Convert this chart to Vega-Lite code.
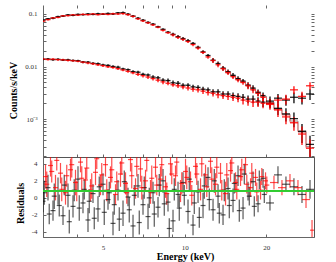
{
"$schema":"https://vega.github.io/schema/vega-lite/v6.json",
"padding":{"left":8,"top":4,"right":5,"bottom":0},
"background":"white",
"config":{"view":{"stroke":null},"axis":{"labelFont":"Liberation Serif","labelFontSize":7,"labelColor":"#333","titleFont":"Liberation Serif","titleFontSize":10,"titleFontWeight":"bold","titleColor":"#000","domainColor":"#666","tickColor":"#666","tickSize":-3,"labelPadding":9,"labelOverlap":false,"grid":false}},
"datasets":{
"spec":[
{"c":"k","e":3.000,"a":2.937,"b":3.065,"f":0.076,"l":0.073,"h":0.079},
{"c":"k","e":3.130,"a":3.064,"b":3.197,"f":0.081,"l":0.0778,"h":0.0842},
{"c":"k","e":3.266,"a":3.197,"b":3.336,"f":0.083,"l":0.0797,"h":0.0863},
{"c":"k","e":3.408,"a":3.336,"b":3.481,"f":0.089,"l":0.0854,"h":0.0926},
{"c":"k","e":3.556,"a":3.481,"b":3.632,"f":0.091,"l":0.0874,"h":0.0946},
{"c":"k","e":3.710,"a":3.632,"b":3.790,"f":0.096,"l":0.0922,"h":0.0998},
{"c":"k","e":3.871,"a":3.790,"b":3.954,"f":0.094,"l":0.0902,"h":0.0978},
{"c":"k","e":4.039,"a":3.954,"b":4.126,"f":0.098,"l":0.0941,"h":0.1019},
{"c":"k","e":4.214,"a":4.126,"b":4.305,"f":0.097,"l":0.0931,"h":0.1009},
{"c":"k","e":4.397,"a":4.305,"b":4.491,"f":0.100,"l":0.096,"h":0.104},
{"c":"k","e":4.588,"a":4.491,"b":4.687,"f":0.098,"l":0.0941,"h":0.1019},
{"c":"k","e":4.787,"a":4.687,"b":4.890,"f":0.101,"l":0.097,"h":0.105},
{"c":"k","e":4.995,"a":4.890,"b":5.102,"f":0.099,"l":0.095,"h":0.103},
{"c":"k","e":5.212,"a":5.102,"b":5.324,"f":0.102,"l":0.098,"h":0.106},
{"c":"k","e":5.438,"a":5.324,"b":5.555,"f":0.100,"l":0.096,"h":0.104},
{"c":"k","e":5.674,"a":5.555,"b":5.796,"f":0.105,"l":0.1008,"h":0.1092},
{"c":"k","e":5.921,"a":5.796,"b":6.048,"f":0.106,"l":0.1007,"h":0.1113},
{"c":"k","e":6.177,"a":6.048,"b":6.310,"f":0.099,"l":0.094,"h":0.104},
{"c":"k","e":6.446,"a":6.310,"b":6.585,"f":0.091,"l":0.0865,"h":0.0956},
{"c":"k","e":6.725,"a":6.585,"b":6.870,"f":0.083,"l":0.0789,"h":0.0872},
{"c":"k","e":7.017,"a":6.870,"b":7.168,"f":0.076,"l":0.0722,"h":0.0798},
{"c":"k","e":7.322,"a":7.168,"b":7.479,"f":0.069,"l":0.0656,"h":0.0725},
{"c":"k","e":7.640,"a":7.479,"b":7.804,"f":0.064,"l":0.0608,"h":0.0672},
{"c":"k","e":7.971,"a":7.804,"b":8.142,"f":0.057,"l":0.0542,"h":0.0599},
{"c":"k","e":8.317,"a":8.142,"b":8.496,"f":0.051,"l":0.0485,"h":0.0536},
{"c":"k","e":8.678,"a":8.496,"b":8.865,"f":0.045,"l":0.0428,"h":0.0473},
{"c":"k","e":9.055,"a":8.865,"b":9.250,"f":0.041,"l":0.0381,"h":0.0439},
{"c":"k","e":9.448,"a":9.250,"b":9.651,"f":0.037,"l":0.0344,"h":0.0396},
{"c":"k","e":9.858,"a":9.651,"b":10.070,"f":0.034,"l":0.0316,"h":0.0364},
{"c":"k","e":10.286,"a":10.070,"b":10.507,"f":0.031,"l":0.0288,"h":0.0332},
{"c":"k","e":10.733,"a":10.507,"b":10.964,"f":0.0275,"l":0.0256,"h":0.0294},
{"c":"k","e":11.199,"a":10.964,"b":11.440,"f":0.0232,"l":0.0216,"h":0.0248},
{"c":"k","e":11.685,"a":11.440,"b":11.936,"f":0.0190,"l":0.0177,"h":0.0203},
{"c":"k","e":12.192,"a":11.936,"b":12.454,"f":0.0162,"l":0.0151,"h":0.0173},
{"c":"k","e":12.722,"a":12.454,"b":12.996,"f":0.0132,"l":0.0119,"h":0.0145},
{"c":"k","e":13.274,"a":12.996,"b":13.559,"f":0.0114,"l":0.0103,"h":0.0125},
{"c":"k","e":13.850,"a":13.559,"b":14.148,"f":0.0093,"l":0.0084,"h":0.0102,"m":0.0094},
{"c":"k","e":14.451,"a":14.148,"b":14.762,"f":0.0080,"l":0.0072,"h":0.0088,"m":0.0079},
{"c":"k","e":15.078,"a":14.762,"b":15.402,"f":0.0068,"l":0.0061,"h":0.0075,"m":0.0068},
{"c":"k","e":15.733,"a":15.402,"b":16.071,"f":0.0059,"l":0.0053,"h":0.0065,"m":0.0059},
{"c":"k","e":16.416,"a":16.071,"b":16.769,"f":0.0053,"l":0.0048,"h":0.0058,"m":0.0052},
{"c":"k","e":17.128,"a":16.769,"b":17.496,"f":0.0044,"l":0.0038,"h":0.0050,"m":0.0045},
{"c":"k","e":17.872,"a":17.496,"b":18.256,"f":0.0039,"l":0.0034,"h":0.0044,"m":0.0038},
{"c":"k","e":18.648,"a":18.256,"b":19.049,"f":0.0032,"l":0.00275,"h":0.00365,"m":0.0033},
{"c":"k","e":19.457,"a":19.049,"b":19.876,"f":0.0028,"l":0.0024,"h":0.0032,"m":0.0027},
{"c":"k","e":20.64,"a":19.95,"b":21.35,"f":0.0022,"l":0.0017,"h":0.0027,"m":0.0021},
{"c":"k","e":22.09,"a":21.35,"b":22.85,"f":0.0016,"l":0.0012,"h":0.0020,"m":0.0016},
{"c":"k","e":23.64,"a":22.85,"b":24.46,"f":0.00125,"l":0.0009,"h":0.0016,"m":0.00125},
{"c":"k","e":25.30,"a":24.46,"b":26.18,"f":0.00102,"l":0.0007,"h":0.00133,"m":0.00092},
{"c":"k","e":27.09,"a":26.18,"b":28.03,"f":0.00058,"l":0.00035,"h":0.00081,"m":0.00060},
{"c":"k","e":29.00,"a":28.03,"b":30.00,"f":0.00033,"l":0.00018,"h":0.00048,"m":0.00030},
{"c":"k","e":3.000,"a":2.937,"b":3.065,"f":0.0137,"l":0.0131,"h":0.0143},
{"c":"k","e":3.130,"a":3.064,"b":3.197,"f":0.0139,"l":0.0133,"h":0.0145},
{"c":"k","e":3.266,"a":3.197,"b":3.336,"f":0.0135,"l":0.0129,"h":0.0141},
{"c":"k","e":3.408,"a":3.336,"b":3.481,"f":0.0137,"l":0.0131,"h":0.0143},
{"c":"k","e":3.556,"a":3.481,"b":3.632,"f":0.0133,"l":0.0127,"h":0.0139},
{"c":"k","e":3.710,"a":3.632,"b":3.790,"f":0.0134,"l":0.0128,"h":0.0140},
{"c":"k","e":3.871,"a":3.790,"b":3.954,"f":0.0130,"l":0.0124,"h":0.0136},
{"c":"k","e":4.039,"a":3.954,"b":4.126,"f":0.0129,"l":0.0123,"h":0.0135},
{"c":"k","e":4.214,"a":4.126,"b":4.305,"f":0.0122,"l":0.0116,"h":0.0128},
{"c":"k","e":4.397,"a":4.305,"b":4.491,"f":0.0121,"l":0.0115,"h":0.0127},
{"c":"k","e":4.588,"a":4.491,"b":4.687,"f":0.0115,"l":0.0109,"h":0.0121},
{"c":"k","e":4.787,"a":4.687,"b":4.890,"f":0.0113,"l":0.0107,"h":0.0119},
{"c":"k","e":4.995,"a":4.890,"b":5.102,"f":0.0107,"l":0.0101,"h":0.0113},
{"c":"k","e":5.212,"a":5.102,"b":5.324,"f":0.0105,"l":0.0099,"h":0.0111},
{"c":"k","e":5.438,"a":5.324,"b":5.555,"f":0.0100,"l":0.0094,"h":0.0106},
{"c":"k","e":5.674,"a":5.555,"b":5.796,"f":0.0097,"l":0.0091,"h":0.0103},
{"c":"k","e":5.921,"a":5.796,"b":6.048,"f":0.0090,"l":0.0085,"h":0.0095},
{"c":"k","e":6.177,"a":6.048,"b":6.310,"f":0.0087,"l":0.0082,"h":0.0092},
{"c":"k","e":6.446,"a":6.310,"b":6.585,"f":0.0080,"l":0.0075,"h":0.0085},
{"c":"k","e":6.725,"a":6.585,"b":6.870,"f":0.0078,"l":0.0073,"h":0.0083},
{"c":"k","e":7.017,"a":6.870,"b":7.168,"f":0.0071,"l":0.0066,"h":0.0076},
{"c":"k","e":7.322,"a":7.168,"b":7.479,"f":0.0069,"l":0.0064,"h":0.0074},
{"c":"k","e":7.640,"a":7.479,"b":7.804,"f":0.0063,"l":0.0058,"h":0.0068},
{"c":"k","e":7.971,"a":7.804,"b":8.142,"f":0.0061,"l":0.0056,"h":0.0066},
{"c":"k","e":8.317,"a":8.142,"b":8.496,"f":0.0055,"l":0.0050,"h":0.0060},
{"c":"k","e":8.678,"a":8.496,"b":8.865,"f":0.0054,"l":0.0049,"h":0.0059},
{"c":"k","e":9.055,"a":8.865,"b":9.250,"f":0.0049,"l":0.0044,"h":0.0054},
{"c":"k","e":9.448,"a":9.250,"b":9.651,"f":0.0048,"l":0.0043,"h":0.0053},
{"c":"k","e":9.858,"a":9.651,"b":10.070,"f":0.0044,"l":0.0040,"h":0.0048},
{"c":"k","e":10.286,"a":10.070,"b":10.507,"f":0.0044,"l":0.0040,"h":0.0048},
{"c":"k","e":10.733,"a":10.507,"b":10.964,"f":0.0041,"l":0.0037,"h":0.0045},
{"c":"k","e":11.199,"a":10.964,"b":11.440,"f":0.0040,"l":0.0036,"h":0.0044},
{"c":"k","e":11.685,"a":11.440,"b":11.936,"f":0.0037,"l":0.0033,"h":0.0041},
{"c":"k","e":12.192,"a":11.936,"b":12.454,"f":0.0036,"l":0.0032,"h":0.0040},
{"c":"k","e":12.722,"a":12.454,"b":12.996,"f":0.0033,"l":0.0029,"h":0.0037},
{"c":"k","e":13.274,"a":12.996,"b":13.559,"f":0.0033,"l":0.0029,"h":0.0037},
{"c":"k","e":13.850,"a":13.559,"b":14.148,"f":0.0030,"l":0.0026,"h":0.0034},
{"c":"k","e":14.451,"a":14.148,"b":14.762,"f":0.0030,"l":0.0026,"h":0.0034},
{"c":"k","e":15.078,"a":14.762,"b":15.402,"f":0.0028,"l":0.0024,"h":0.0032},
{"c":"k","e":15.733,"a":15.402,"b":16.071,"f":0.0027,"l":0.0023,"h":0.0031},
{"c":"k","e":16.416,"a":16.071,"b":16.769,"f":0.0026,"l":0.0022,"h":0.0030},
{"c":"k","e":17.128,"a":16.769,"b":17.496,"f":0.0024,"l":0.0020,"h":0.0028},
{"c":"k","e":17.872,"a":17.496,"b":18.256,"f":0.0024,"l":0.0020,"h":0.0028},
{"c":"k","e":18.648,"a":18.256,"b":19.049,"f":0.0022,"l":0.0018,"h":0.0026},
{"c":"k","e":19.457,"a":19.049,"b":19.876,"f":0.0021,"l":0.0017,"h":0.0025},
{"c":"k","e":20.64,"a":19.95,"b":21.35,"f":0.0020,"l":0.0016,"h":0.0024},
{"c":"k","e":22.09,"a":21.35,"b":22.85,"f":0.0025,"l":0.0020,"h":0.0030},
{"c":"k","e":23.64,"a":22.85,"b":24.46,"f":0.0023,"l":0.0018,"h":0.0028},
{"c":"k","e":25.30,"a":24.46,"b":26.18,"f":0.0026,"l":0.0020,"h":0.0032},
{"c":"k","e":27.09,"a":26.18,"b":28.03,"f":0.0025,"l":0.0019,"h":0.0031},
{"c":"k","e":29.00,"a":28.03,"b":30.00,"f":0.0030,"l":0.0023,"h":0.0037},
{"c":"r","e":3.000,"a":2.937,"b":3.065,"f":0.073,"l":0.070,"h":0.076},
{"c":"r","e":3.130,"a":3.064,"b":3.197,"f":0.078,"l":0.0749,"h":0.0811},
{"c":"r","e":3.266,"a":3.197,"b":3.336,"f":0.084,"l":0.0806,"h":0.0874},
{"c":"r","e":3.408,"a":3.336,"b":3.481,"f":0.086,"l":0.0826,"h":0.0894},
{"c":"r","e":3.556,"a":3.481,"b":3.632,"f":0.092,"l":0.0883,"h":0.0957},
{"c":"r","e":3.710,"a":3.632,"b":3.790,"f":0.093,"l":0.0893,"h":0.0967},
{"c":"r","e":3.871,"a":3.790,"b":3.954,"f":0.096,"l":0.0922,"h":0.0998},
{"c":"r","e":4.039,"a":3.954,"b":4.126,"f":0.095,"l":0.0912,"h":0.0988},
{"c":"r","e":4.214,"a":4.126,"b":4.305,"f":0.098,"l":0.0941,"h":0.1019},
{"c":"r","e":4.397,"a":4.305,"b":4.491,"f":0.097,"l":0.0931,"h":0.1009},
{"c":"r","e":4.588,"a":4.491,"b":4.687,"f":0.100,"l":0.096,"h":0.104},
{"c":"r","e":4.787,"a":4.687,"b":4.890,"f":0.097,"l":0.0931,"h":0.1009},
{"c":"r","e":4.995,"a":4.890,"b":5.102,"f":0.100,"l":0.096,"h":0.104},
{"c":"r","e":5.212,"a":5.102,"b":5.324,"f":0.098,"l":0.0941,"h":0.1019},
{"c":"r","e":5.438,"a":5.324,"b":5.555,"f":0.101,"l":0.097,"h":0.105},
{"c":"r","e":5.674,"a":5.555,"b":5.796,"f":0.100,"l":0.096,"h":0.104},
{"c":"r","e":5.921,"a":5.796,"b":6.048,"f":0.102,"l":0.0969,"h":0.1071},
{"c":"r","e":6.177,"a":6.048,"b":6.310,"f":0.097,"l":0.0922,"h":0.1019},
{"c":"r","e":6.446,"a":6.310,"b":6.585,"f":0.090,"l":0.0855,"h":0.0945},
{"c":"r","e":6.725,"a":6.585,"b":6.870,"f":0.081,"l":0.077,"h":0.085},
{"c":"r","e":7.017,"a":6.870,"b":7.168,"f":0.074,"l":0.0703,"h":0.0777},
{"c":"r","e":7.322,"a":7.168,"b":7.479,"f":0.068,"l":0.0646,"h":0.0714},
{"c":"r","e":7.640,"a":7.479,"b":7.804,"f":0.062,"l":0.0589,"h":0.0651},
{"c":"r","e":7.971,"a":7.804,"b":8.142,"f":0.056,"l":0.0532,"h":0.0588},
{"c":"r","e":8.317,"a":8.142,"b":8.496,"f":0.049,"l":0.0466,"h":0.0515},
{"c":"r","e":8.678,"a":8.496,"b":8.865,"f":0.044,"l":0.0418,"h":0.0462},
{"c":"r","e":9.055,"a":8.865,"b":9.250,"f":0.040,"l":0.0372,"h":0.0428},
{"c":"r","e":9.448,"a":9.250,"b":9.651,"f":0.036,"l":0.0335,"h":0.0385},
{"c":"r","e":9.858,"a":9.651,"b":10.070,"f":0.033,"l":0.0307,"h":0.0353},
{"c":"r","e":10.286,"a":10.070,"b":10.507,"f":0.030,"l":0.0279,"h":0.0321},
{"c":"r","e":10.733,"a":10.507,"b":10.964,"f":0.0262,"l":0.0244,"h":0.0280},
{"c":"r","e":11.199,"a":10.964,"b":11.440,"f":0.0225,"l":0.0209,"h":0.0241},
{"c":"r","e":11.685,"a":11.440,"b":11.936,"f":0.0186,"l":0.0173,"h":0.0199},
{"c":"r","e":12.192,"a":11.936,"b":12.454,"f":0.0152,"l":0.0141,"h":0.0163},
{"c":"r","e":12.722,"a":12.454,"b":12.996,"f":0.0130,"l":0.0117,"h":0.0143},
{"c":"r","e":13.274,"a":12.996,"b":13.559,"f":0.0108,"l":0.0097,"h":0.0119},
{"c":"r","e":13.850,"a":13.559,"b":14.148,"f":0.0091,"l":0.0082,"h":0.0100,"m":0.0089},
{"c":"r","e":14.451,"a":14.148,"b":14.762,"f":0.0077,"l":0.0069,"h":0.0085,"m":0.0075},
{"c":"r","e":15.078,"a":14.762,"b":15.402,"f":0.0064,"l":0.0058,"h":0.0070,"m":0.0065},
{"c":"r","e":15.733,"a":15.402,"b":16.071,"f":0.0056,"l":0.0050,"h":0.0062,"m":0.0056},
{"c":"r","e":16.416,"a":16.071,"b":16.769,"f":0.0050,"l":0.0045,"h":0.0055,"m":0.0049},
{"c":"r","e":17.128,"a":16.769,"b":17.496,"f":0.0043,"l":0.0037,"h":0.0049,"m":0.0043},
{"c":"r","e":17.872,"a":17.496,"b":18.256,"f":0.0036,"l":0.0031,"h":0.0041,"m":0.0036},
{"c":"r","e":18.648,"a":18.256,"b":19.049,"f":0.0031,"l":0.0027,"h":0.0035,"m":0.0031},
{"c":"r","e":19.457,"a":19.049,"b":19.876,"f":0.0026,"l":0.0022,"h":0.0030,"m":0.0026},
{"c":"r","e":20.64,"a":19.95,"b":21.35,"f":0.0020,"l":0.0016,"h":0.0024,"m":0.0020},
{"c":"r","e":22.09,"a":21.35,"b":22.85,"f":0.0015,"l":0.0011,"h":0.0019,"m":0.0015},
{"c":"r","e":23.64,"a":22.85,"b":24.46,"f":0.0011,"l":0.0008,"h":0.0014,"m":0.00119},
{"c":"r","e":25.30,"a":24.46,"b":26.18,"f":0.00085,"l":0.0006,"h":0.0011,"m":0.00087},
{"c":"r","e":27.09,"a":26.18,"b":28.03,"f":0.00052,"l":0.00032,"h":0.00072,"m":0.00057},
{"c":"r","e":29.00,"a":28.03,"b":30.00,"f":0.00028,"l":0.00015,"h":0.00041,"m":0.00028},
{"c":"r","e":3.000,"a":2.937,"b":3.065,"f":0.0139,"l":0.0133,"h":0.0145},
{"c":"r","e":3.130,"a":3.064,"b":3.197,"f":0.0136,"l":0.0130,"h":0.0142},
{"c":"r","e":3.266,"a":3.197,"b":3.336,"f":0.0138,"l":0.0132,"h":0.0144},
{"c":"r","e":3.408,"a":3.336,"b":3.481,"f":0.0135,"l":0.0129,"h":0.0141},
{"c":"r","e":3.556,"a":3.481,"b":3.632,"f":0.0134,"l":0.0128,"h":0.0140},
{"c":"r","e":3.710,"a":3.632,"b":3.790,"f":0.0131,"l":0.0125,"h":0.0137},
{"c":"r","e":3.871,"a":3.790,"b":3.954,"f":0.0129,"l":0.0123,"h":0.0135},
{"c":"r","e":4.039,"a":3.954,"b":4.126,"f":0.0126,"l":0.0120,"h":0.0132},
{"c":"r","e":4.214,"a":4.126,"b":4.305,"f":0.0121,"l":0.0115,"h":0.0127},
{"c":"r","e":4.397,"a":4.305,"b":4.491,"f":0.0117,"l":0.0111,"h":0.0123},
{"c":"r","e":4.588,"a":4.491,"b":4.687,"f":0.0113,"l":0.0107,"h":0.0119},
{"c":"r","e":4.787,"a":4.687,"b":4.890,"f":0.0108,"l":0.0102,"h":0.0114},
{"c":"r","e":4.995,"a":4.890,"b":5.102,"f":0.0104,"l":0.0098,"h":0.0110},
{"c":"r","e":5.212,"a":5.102,"b":5.324,"f":0.0099,"l":0.0094,"h":0.0104},
{"c":"r","e":5.438,"a":5.324,"b":5.555,"f":0.0096,"l":0.0091,"h":0.0101},
{"c":"r","e":5.674,"a":5.555,"b":5.796,"f":0.0091,"l":0.0086,"h":0.0096},
{"c":"r","e":5.921,"a":5.796,"b":6.048,"f":0.0086,"l":0.0081,"h":0.0091},
{"c":"r","e":6.177,"a":6.048,"b":6.310,"f":0.0081,"l":0.0076,"h":0.0086},
{"c":"r","e":6.446,"a":6.310,"b":6.585,"f":0.0076,"l":0.0071,"h":0.0081},
{"c":"r","e":6.725,"a":6.585,"b":6.870,"f":0.0071,"l":0.0066,"h":0.0076},
{"c":"r","e":7.017,"a":6.870,"b":7.168,"f":0.0067,"l":0.0062,"h":0.0072},
{"c":"r","e":7.322,"a":7.168,"b":7.479,"f":0.0063,"l":0.0058,"h":0.0068},
{"c":"r","e":7.640,"a":7.479,"b":7.804,"f":0.0059,"l":0.0054,"h":0.0064},
{"c":"r","e":7.971,"a":7.804,"b":8.142,"f":0.0055,"l":0.0050,"h":0.0060},
{"c":"r","e":8.317,"a":8.142,"b":8.496,"f":0.0051,"l":0.0046,"h":0.0056},
{"c":"r","e":8.678,"a":8.496,"b":8.865,"f":0.0048,"l":0.0044,"h":0.0052},
{"c":"r","e":9.055,"a":8.865,"b":9.250,"f":0.0045,"l":0.0041,"h":0.0049},
{"c":"r","e":9.448,"a":9.250,"b":9.651,"f":0.0043,"l":0.0039,"h":0.0047},
{"c":"r","e":9.858,"a":9.651,"b":10.070,"f":0.0041,"l":0.0037,"h":0.0045},
{"c":"r","e":10.286,"a":10.070,"b":10.507,"f":0.0039,"l":0.0035,"h":0.0043},
{"c":"r","e":10.733,"a":10.507,"b":10.964,"f":0.0037,"l":0.0033,"h":0.0041},
{"c":"r","e":11.199,"a":10.964,"b":11.440,"f":0.0036,"l":0.0032,"h":0.0040},
{"c":"r","e":11.685,"a":11.440,"b":11.936,"f":0.0034,"l":0.0030,"h":0.0038},
{"c":"r","e":12.192,"a":11.936,"b":12.454,"f":0.0032,"l":0.0028,"h":0.0036},
{"c":"r","e":12.722,"a":12.454,"b":12.996,"f":0.0031,"l":0.0027,"h":0.0035},
{"c":"r","e":13.274,"a":12.996,"b":13.559,"f":0.0029,"l":0.0025,"h":0.0033},
{"c":"r","e":13.850,"a":13.559,"b":14.148,"f":0.0028,"l":0.0024,"h":0.0032},
{"c":"r","e":14.451,"a":14.148,"b":14.762,"f":0.0027,"l":0.0023,"h":0.0031},
{"c":"r","e":15.078,"a":14.762,"b":15.402,"f":0.0026,"l":0.0022,"h":0.0030},
{"c":"r","e":15.733,"a":15.402,"b":16.071,"f":0.0025,"l":0.0021,"h":0.0029},
{"c":"r","e":16.416,"a":16.071,"b":16.769,"f":0.0023,"l":0.0019,"h":0.0027},
{"c":"r","e":17.128,"a":16.769,"b":17.496,"f":0.0022,"l":0.0018,"h":0.0026},
{"c":"r","e":17.872,"a":17.496,"b":18.256,"f":0.0021,"l":0.0017,"h":0.0025},
{"c":"r","e":18.648,"a":18.256,"b":19.049,"f":0.0021,"l":0.0017,"h":0.0025},
{"c":"r","e":19.457,"a":19.049,"b":19.876,"f":0.0020,"l":0.0016,"h":0.0024},
{"c":"r","e":20.64,"a":19.95,"b":21.35,"f":0.0019,"l":0.0015,"h":0.0023},
{"c":"r","e":22.09,"a":21.35,"b":22.85,"f":0.0023,"l":0.0018,"h":0.0028},
{"c":"r","e":23.64,"a":22.85,"b":24.46,"f":0.0024,"l":0.0019,"h":0.0029},
{"c":"r","e":25.30,"a":24.46,"b":26.18,"f":0.0036,"l":0.0030,"h":0.0042},
{"c":"r","e":27.09,"a":26.18,"b":28.03,"f":0.0027,"l":0.0021,"h":0.0033},
{"c":"r","e":29.00,"a":28.03,"b":30.00,"f":0.0043,"l":0.0036,"h":0.0050}
],
"res":[
{"c":"k","e":3.000,"a":2.937,"b":3.065,"r":-0.4,"l":-1.7,"h":0.9},
{"c":"k","e":3.130,"a":3.064,"b":3.197,"r":1.2,"l":-0.3,"h":2.7},
{"c":"k","e":3.266,"a":3.197,"b":3.336,"r":-1.5,"l":-2.7,"h":-0.3},
{"c":"k","e":3.408,"a":3.336,"b":3.481,"r":0.8,"l":-0.8,"h":2.4},
{"c":"k","e":3.556,"a":3.481,"b":3.632,"r":-2.1,"l":-3.2,"h":-1.0},
{"c":"k","e":3.710,"a":3.632,"b":3.790,"r":0.3,"l":-1.1,"h":1.7},
{"c":"k","e":3.871,"a":3.790,"b":3.954,"r":-1.0,"l":-2.3,"h":0.3},
{"c":"k","e":4.039,"a":3.954,"b":4.126,"r":2.2,"l":0.7,"h":3.7},
{"c":"k","e":4.214,"a":4.126,"b":4.305,"r":-0.6,"l":-1.8,"h":0.6},
{"c":"k","e":4.397,"a":4.305,"b":4.491,"r":-2.6,"l":-4.0,"h":-1.2},
{"c":"k","e":4.588,"a":4.491,"b":4.687,"r":0.5,"l":-0.6,"h":1.6},
{"c":"k","e":4.787,"a":4.687,"b":4.890,"r":-1.3,"l":-2.8,"h":0.2},
{"c":"k","e":4.995,"a":4.890,"b":5.102,"r":1.6,"l":0.3,"h":2.9},
{"c":"k","e":5.212,"a":5.102,"b":5.324,"r":-0.2,"l":-1.4,"h":1.0},
{"c":"k","e":5.438,"a":5.324,"b":5.555,"r":-3.0,"l":-4.4,"h":-1.6},
{"c":"k","e":5.674,"a":5.555,"b":5.796,"r":0.9,"l":-0.3,"h":2.1},
{"c":"k","e":5.921,"a":5.796,"b":6.048,"r":-1.8,"l":-3.3,"h":-0.3},
{"c":"k","e":6.177,"a":6.048,"b":6.310,"r":0.1,"l":-1.0,"h":1.2},
{"c":"k","e":6.446,"a":6.310,"b":6.585,"r":-3.3,"l":-4.6,"h":-2.0},
{"c":"k","e":6.725,"a":6.585,"b":6.870,"r":1.4,"l":0.0,"h":2.8},
{"c":"k","e":7.017,"a":6.870,"b":7.168,"r":-0.8,"l":-2.0,"h":0.4},
{"c":"k","e":7.322,"a":7.168,"b":7.479,"r":-2.2,"l":-3.7,"h":-0.7},
{"c":"k","e":7.640,"a":7.479,"b":7.804,"r":0.6,"l":-0.7,"h":1.9},
{"c":"k","e":7.971,"a":7.804,"b":8.142,"r":-1.1,"l":-2.3,"h":0.1},
{"c":"k","e":8.317,"a":8.142,"b":8.496,"r":2.0,"l":0.6,"h":3.4},
{"c":"k","e":8.678,"a":8.496,"b":8.865,"r":-0.5,"l":-1.6,"h":0.6},
{"c":"k","e":9.055,"a":8.865,"b":9.250,"r":-2.7,"l":-4.0,"h":-1.4},
{"c":"k","e":9.448,"a":9.250,"b":9.651,"r":0.4,"l":-1.1,"h":1.9},
{"c":"k","e":9.858,"a":9.651,"b":10.070,"r":1.8,"l":0.6,"h":3.0},
{"c":"k","e":10.286,"a":10.070,"b":10.507,"r":-1.6,"l":-3.0,"h":-0.2},
{"c":"k","e":10.733,"a":10.507,"b":10.964,"r":-3.2,"l":-4.4,"h":-2.0},
{"c":"k","e":11.199,"a":10.964,"b":11.440,"r":0.7,"l":-0.6,"h":2.0},
{"c":"k","e":11.685,"a":11.440,"b":11.936,"r":-0.9,"l":-2.4,"h":0.6},
{"c":"k","e":12.192,"a":11.936,"b":12.454,"r":2.4,"l":1.2,"h":3.6},
{"c":"k","e":12.722,"a":12.454,"b":12.996,"r":-1.4,"l":-2.7,"h":-0.1},
{"c":"k","e":13.274,"a":12.996,"b":13.559,"r":0.2,"l":-1.2,"h":1.6},
{"c":"k","e":13.850,"a":13.559,"b":14.148,"r":-2.0,"l":-3.2,"h":-0.8},
{"c":"k","e":14.451,"a":14.148,"b":14.762,"r":1.1,"l":-0.2,"h":2.4},
{"c":"k","e":15.078,"a":14.762,"b":15.402,"r":-0.3,"l":-1.7,"h":1.1},
{"c":"k","e":15.733,"a":15.402,"b":16.071,"r":2.6,"l":1.4,"h":3.8},
{"c":"k","e":16.416,"a":16.071,"b":16.769,"r":-1.2,"l":-2.5,"h":0.1},
{"c":"k","e":17.128,"a":16.769,"b":17.496,"r":0.8,"l":-0.3,"h":1.9},
{"c":"k","e":17.872,"a":17.496,"b":18.256,"r":1.9,"l":0.7,"h":3.1},
{"c":"k","e":18.648,"a":18.256,"b":19.049,"r":-0.7,"l":-1.7,"h":0.3},
{"c":"k","e":19.457,"a":19.049,"b":19.876,"r":2.3,"l":1.2,"h":3.4},
{"c":"k","e":20.64,"a":19.95,"b":21.35,"r":-0.6,"l":-1.5,"h":0.3},
{"c":"k","e":22.09,"a":21.35,"b":22.85,"r":2.7,"l":1.7,"h":3.7},
{"c":"k","e":23.64,"a":22.85,"b":24.46,"r":1.6,"l":0.7,"h":2.5},
{"c":"k","e":25.30,"a":24.46,"b":26.18,"r":1.3,"l":0.3,"h":2.3},
{"c":"k","e":27.09,"a":26.18,"b":28.03,"r":0.4,"l":-0.6,"h":1.4},
{"c":"k","e":29.00,"a":28.03,"b":30.00,"r":1.0,"l":-0.1,"h":2.1},
{"c":"k","e":3.032,"a":2.968,"b":3.097,"r":0.6,"l":-0.8,"h":2.0},
{"c":"k","e":3.163,"a":3.097,"b":3.231,"r":-1.9,"l":-3.1,"h":-0.7},
{"c":"k","e":3.301,"a":3.231,"b":3.372,"r":0.2,"l":-1.3,"h":1.7},
{"c":"k","e":3.444,"a":3.372,"b":3.518,"r":-0.9,"l":-2.2,"h":0.4},
{"c":"k","e":3.594,"a":3.518,"b":3.671,"r":1.5,"l":0.3,"h":2.7},
{"c":"k","e":3.750,"a":3.671,"b":3.831,"r":-2.8,"l":-4.2,"h":-1.4},
{"c":"k","e":3.912,"a":3.830,"b":3.996,"r":0.9,"l":-0.4,"h":2.2},
{"c":"k","e":4.082,"a":3.996,"b":4.170,"r":-1.2,"l":-2.7,"h":0.3},
{"c":"k","e":4.259,"a":4.169,"b":4.351,"r":1.0,"l":-0.2,"h":2.2},
{"c":"k","e":4.444,"a":4.350,"b":4.540,"r":-0.4,"l":-1.8,"h":1.0},
{"c":"k","e":4.637,"a":4.539,"b":4.737,"r":-2.4,"l":-3.7,"h":-1.1},
{"c":"k","e":4.838,"a":4.736,"b":4.942,"r":1.3,"l":0.1,"h":2.5},
{"c":"k","e":5.048,"a":4.942,"b":5.157,"r":-1.7,"l":-3.2,"h":-0.2},
{"c":"k","e":5.268,"a":5.157,"b":5.381,"r":0.6,"l":-0.7,"h":1.9},
{"c":"k","e":5.496,"a":5.380,"b":5.614,"r":-0.8,"l":-2.0,"h":0.4},
{"c":"k","e":5.735,"a":5.614,"b":5.858,"r":-2.5,"l":-3.9,"h":-1.1},
{"c":"k","e":5.984,"a":5.858,"b":6.113,"r":1.9,"l":0.6,"h":3.2},
{"c":"k","e":6.243,"a":6.112,"b":6.377,"r":-1.4,"l":-2.9,"h":0.1},
{"c":"k","e":6.515,"a":6.378,"b":6.655,"r":0.3,"l":-0.9,"h":1.5},
{"c":"k","e":6.797,"a":6.654,"b":6.943,"r":-2.9,"l":-4.3,"h":-1.5},
{"c":"k","e":7.092,"a":6.943,"b":7.245,"r":1.2,"l":-0.1,"h":2.5},
{"c":"k","e":7.400,"a":7.244,"b":7.559,"r":0.0,"l":-1.2,"h":1.2},
{"c":"k","e":7.722,"a":7.559,"b":7.888,"r":-1.9,"l":-3.4,"h":-0.4},
{"c":"k","e":8.056,"a":7.886,"b":8.229,"r":1.5,"l":0.2,"h":2.8},
{"c":"k","e":8.406,"a":8.229,"b":8.587,"r":-0.7,"l":-2.1,"h":0.7},
{"c":"k","e":8.771,"a":8.586,"b":8.960,"r":-3.6,"l":-4.8,"h":-2.4},
{"c":"k","e":9.152,"a":8.959,"b":9.349,"r":1.0,"l":-0.3,"h":2.3},
{"c":"k","e":9.549,"a":9.348,"b":9.754,"r":-1.2,"l":-2.7,"h":0.3},
{"c":"k","e":9.963,"a":9.753,"b":10.177,"r":0.3,"l":-0.9,"h":1.5},
{"c":"k","e":10.396,"a":10.177,"b":10.620,"r":2.2,"l":0.8,"h":3.6},
{"c":"k","e":10.848,"a":10.620,"b":11.081,"r":-0.6,"l":-1.9,"h":0.7},
{"c":"k","e":11.319,"a":11.081,"b":11.562,"r":-2.3,"l":-3.5,"h":-1.1},
{"c":"k","e":11.810,"a":11.561,"b":12.064,"r":1.4,"l":-0.1,"h":2.9},
{"c":"k","e":12.322,"a":12.063,"b":12.587,"r":-0.2,"l":-1.5,"h":1.1},
{"c":"k","e":12.858,"a":12.587,"b":13.134,"r":2.0,"l":0.6,"h":3.4},
{"c":"k","e":13.416,"a":13.134,"b":13.704,"r":-1.8,"l":-3.0,"h":-0.6},
{"c":"k","e":13.998,"a":13.703,"b":14.299,"r":0.9,"l":-0.4,"h":2.2},
{"c":"k","e":14.606,"a":14.299,"b":14.920,"r":-0.9,"l":-2.4,"h":0.6},
{"c":"k","e":15.239,"a":14.918,"b":15.567,"r":1.7,"l":0.5,"h":2.9},
{"c":"k","e":15.901,"a":15.566,"b":16.243,"r":-1.5,"l":-2.8,"h":-0.2},
{"c":"k","e":16.592,"a":16.243,"b":16.949,"r":2.8,"l":1.6,"h":4.0},
{"c":"k","e":17.311,"a":16.947,"b":17.683,"r":0.2,"l":-0.9,"h":1.3},
{"c":"k","e":18.063,"a":17.683,"b":18.451,"r":-1.0,"l":-2.2,"h":0.2},
{"c":"k","e":18.848,"a":18.451,"b":19.253,"r":2.1,"l":1.0,"h":3.2},
{"c":"k","e":19.665,"a":19.251,"b":20.088,"r":0.4,"l":-0.6,"h":1.4},
{"c":"r","e":3.065,"a":3.000,"b":3.130,"r":2.5,"l":1.1,"h":3.9},
{"c":"r","e":3.197,"a":3.130,"b":3.266,"r":3.8,"l":2.5,"h":5.1},
{"c":"r","e":3.336,"a":3.266,"b":3.408,"r":1.2,"l":-0.3,"h":2.7},
{"c":"r","e":3.481,"a":3.408,"b":3.556,"r":2.9,"l":1.7,"h":4.1},
{"c":"r","e":3.632,"a":3.556,"b":3.710,"r":0.6,"l":-0.8,"h":2.0},
{"c":"r","e":3.790,"a":3.710,"b":3.871,"r":3.3,"l":2.0,"h":4.6},
{"c":"r","e":3.954,"a":3.871,"b":4.039,"r":1.8,"l":0.3,"h":3.3},
{"c":"r","e":4.126,"a":4.039,"b":4.214,"r":4.2,"l":3.0,"h":5.4},
{"c":"r","e":4.305,"a":4.214,"b":4.397,"r":2.1,"l":0.7,"h":3.5},
{"c":"r","e":4.491,"a":4.397,"b":4.588,"r":0.9,"l":-0.4,"h":2.2},
{"c":"r","e":4.687,"a":4.588,"b":4.787,"r":3.0,"l":1.5,"h":4.5},
{"c":"r","e":4.890,"a":4.787,"b":4.995,"r":1.5,"l":0.3,"h":2.7},
{"c":"r","e":5.102,"a":4.995,"b":5.212,"r":3.9,"l":2.5,"h":5.3},
{"c":"r","e":5.324,"a":5.212,"b":5.438,"r":2.4,"l":1.1,"h":3.7},
{"c":"r","e":5.555,"a":5.438,"b":5.674,"r":0.4,"l":-0.8,"h":1.6},
{"c":"r","e":5.796,"a":5.674,"b":5.921,"r":2.8,"l":1.3,"h":4.3},
{"c":"r","e":6.048,"a":5.921,"b":6.177,"r":1.7,"l":0.4,"h":3.0},
{"c":"r","e":6.310,"a":6.177,"b":6.446,"r":4.5,"l":3.1,"h":5.9},
{"c":"r","e":6.585,"a":6.446,"b":6.725,"r":1.1,"l":-0.1,"h":2.3},
{"c":"r","e":6.870,"a":6.725,"b":7.017,"r":3.4,"l":1.9,"h":4.9},
{"c":"r","e":7.168,"a":7.017,"b":7.322,"r":2.0,"l":0.7,"h":3.3},
{"c":"r","e":7.479,"a":7.322,"b":7.640,"r":0.7,"l":-0.7,"h":2.1},
{"c":"r","e":7.804,"a":7.640,"b":7.971,"r":3.6,"l":2.4,"h":4.8},
{"c":"r","e":8.142,"a":7.971,"b":8.317,"r":2.2,"l":0.7,"h":3.7},
{"c":"r","e":8.496,"a":8.317,"b":8.678,"r":1.3,"l":0.0,"h":2.6},
{"c":"r","e":8.865,"a":8.678,"b":9.055,"r":4.0,"l":2.6,"h":5.4},
{"c":"r","e":9.250,"a":9.055,"b":9.448,"r":2.6,"l":1.4,"h":3.8},
{"c":"r","e":9.651,"a":9.448,"b":9.858,"r":0.8,"l":-0.5,"h":2.1},
{"c":"r","e":10.070,"a":9.858,"b":10.286,"r":3.1,"l":1.6,"h":4.6},
{"c":"r","e":10.507,"a":10.286,"b":10.733,"r":1.9,"l":0.7,"h":3.1},
{"c":"r","e":10.964,"a":10.733,"b":11.199,"r":3.7,"l":2.3,"h":5.1},
{"c":"r","e":11.440,"a":11.199,"b":11.685,"r":1.0,"l":-0.3,"h":2.3},
{"c":"r","e":11.936,"a":11.685,"b":12.192,"r":2.7,"l":1.5,"h":3.9},
{"c":"r","e":12.454,"a":12.192,"b":12.722,"r":4.3,"l":2.9,"h":5.7},
{"c":"r","e":12.996,"a":12.722,"b":13.274,"r":1.6,"l":0.3,"h":2.9},
{"c":"r","e":13.559,"a":13.274,"b":13.850,"r":2.9,"l":1.7,"h":4.1},
{"c":"r","e":14.148,"a":13.850,"b":14.451,"r":0.5,"l":-0.9,"h":1.9},
{"c":"r","e":14.762,"a":14.451,"b":15.078,"r":3.2,"l":1.9,"h":4.5},
{"c":"r","e":15.402,"a":15.078,"b":15.733,"r":1.8,"l":0.6,"h":3.0},
{"c":"r","e":16.071,"a":15.733,"b":16.416,"r":2.5,"l":1.4,"h":3.6},
{"c":"r","e":16.769,"a":16.416,"b":17.128,"r":3.9,"l":2.7,"h":5.1},
{"c":"r","e":17.496,"a":17.128,"b":17.872,"r":1.2,"l":0.1,"h":2.3},
{"c":"r","e":18.256,"a":17.872,"b":18.648,"r":2.4,"l":1.4,"h":3.4},
{"c":"r","e":19.049,"a":18.648,"b":19.457,"r":0.9,"l":-0.2,"h":2.0},
{"c":"r","e":19.876,"a":19.457,"b":20.30,"r":2.0,"l":1.0,"h":3.0},
{"c":"r","e":21.35,"a":20.64,"b":22.09,"r":1.8,"l":1.0,"h":2.6},
{"c":"r","e":22.85,"a":22.09,"b":23.64,"r":1.2,"l":0.3,"h":2.1},
{"c":"r","e":24.46,"a":23.64,"b":25.30,"r":2.0,"l":1.2,"h":2.8},
{"c":"r","e":26.18,"a":25.30,"b":27.09,"r":1.2,"l":0.3,"h":2.1},
{"c":"r","e":28.03,"a":27.09,"b":29.00,"r":-0.2,"l":-1.2,"h":0.8},
{"c":"r","e":29.50,"a":29.00,"b":30.00,"r":-3.8,"l":-5.0,"h":-2.6},
{"c":"r","e":3.097,"a":3.032,"b":3.164,"r":1.6,"l":0.1,"h":3.1},
{"c":"r","e":3.231,"a":3.163,"b":3.301,"r":3.1,"l":1.8,"h":4.4},
{"c":"r","e":3.372,"a":3.301,"b":3.444,"r":4.4,"l":3.2,"h":5.6},
{"c":"r","e":3.518,"a":3.444,"b":3.594,"r":1.0,"l":-0.4,"h":2.4},
{"c":"r","e":3.671,"a":3.594,"b":3.750,"r":2.6,"l":1.3,"h":3.9},
{"c":"r","e":3.830,"a":3.749,"b":3.912,"r":3.9,"l":2.4,"h":5.4},
{"c":"r","e":3.996,"a":3.912,"b":4.082,"r":0.8,"l":-0.4,"h":2.0},
{"c":"r","e":4.170,"a":4.082,"b":4.260,"r":2.3,"l":0.9,"h":3.7},
{"c":"r","e":4.351,"a":4.259,"b":4.445,"r":3.5,"l":2.2,"h":4.8},
{"c":"r","e":4.539,"a":4.443,"b":4.637,"r":1.4,"l":-0.1,"h":2.9},
{"c":"r","e":4.737,"a":4.637,"b":4.839,"r":4.6,"l":3.4,"h":5.8},
{"c":"r","e":4.942,"a":4.838,"b":5.048,"r":2.7,"l":1.3,"h":4.1},
{"c":"r","e":5.157,"a":5.048,"b":5.268,"r":0.9,"l":-0.4,"h":2.2},
{"c":"r","e":5.381,"a":5.268,"b":5.497,"r":3.3,"l":1.8,"h":4.8},
{"c":"r","e":5.614,"a":5.496,"b":5.735,"r":1.9,"l":0.7,"h":3.1},
{"c":"r","e":5.858,"a":5.735,"b":5.984,"r":4.1,"l":2.7,"h":5.5},
{"c":"r","e":6.113,"a":5.984,"b":6.244,"r":0.6,"l":-0.7,"h":1.9},
{"c":"r","e":6.377,"a":6.243,"b":6.514,"r":2.6,"l":1.1,"h":4.1},
{"c":"r","e":6.655,"a":6.515,"b":6.798,"r":3.7,"l":2.5,"h":4.9},
{"c":"r","e":6.943,"a":6.797,"b":7.092,"r":1.2,"l":-0.2,"h":2.6},
{"c":"r","e":7.244,"a":7.092,"b":7.400,"r":4.4,"l":3.1,"h":5.7},
{"c":"r","e":7.559,"a":7.400,"b":7.722,"r":2.3,"l":0.8,"h":3.8},
{"c":"r","e":7.888,"a":7.722,"b":8.058,"r":1.5,"l":0.3,"h":2.7},
{"c":"r","e":8.229,"a":8.056,"b":8.406,"r":3.9,"l":2.5,"h":5.3},
{"c":"r","e":8.586,"a":8.405,"b":8.771,"r":0.5,"l":-0.8,"h":1.8},
{"c":"r","e":8.959,"a":8.770,"b":9.152,"r":2.8,"l":1.6,"h":4.0},
{"c":"r","e":9.348,"a":9.151,"b":9.549,"r":4.2,"l":2.7,"h":5.7},
{"c":"r","e":9.754,"a":9.549,"b":9.964,"r":1.7,"l":0.4,"h":3.0},
{"c":"r","e":10.177,"a":9.963,"b":10.396,"r":2.4,"l":1.0,"h":3.8},
{"c":"r","e":10.619,"a":10.396,"b":10.848,"r":0.3,"l":-0.9,"h":1.5},
{"c":"r","e":11.081,"a":10.848,"b":11.319,"r":2.8,"l":1.5,"h":4.1},
{"c":"r","e":11.562,"a":11.319,"b":11.811,"r":4.0,"l":2.5,"h":5.5},
{"c":"r","e":12.064,"a":11.810,"b":12.323,"r":1.3,"l":0.1,"h":2.5},
{"c":"r","e":12.587,"a":12.322,"b":12.858,"r":2.2,"l":0.8,"h":3.6},
{"c":"r","e":13.134,"a":12.858,"b":13.416,"r":3.6,"l":2.3,"h":4.9},
{"c":"r","e":13.704,"a":13.416,"b":13.999,"r":0.9,"l":-0.3,"h":2.1},
{"c":"r","e":14.299,"a":13.998,"b":14.607,"r":2.7,"l":1.3,"h":4.1},
{"c":"r","e":14.919,"a":14.605,"b":15.240,"r":4.1,"l":2.8,"h":5.4},
{"c":"r","e":15.567,"a":15.239,"b":15.902,"r":1.0,"l":-0.2,"h":2.2},
{"c":"r","e":16.243,"a":15.901,"b":16.592,"r":3.3,"l":2.0,"h":4.6},
{"c":"r","e":16.948,"a":16.591,"b":17.312,"r":1.6,"l":0.5,"h":2.7},
{"c":"r","e":17.683,"a":17.311,"b":18.064,"r":2.9,"l":1.7,"h":4.1},
{"c":"r","e":18.451,"a":18.063,"b":18.848,"r":0.7,"l":-0.4,"h":1.8},
{"c":"r","e":19.252,"a":18.847,"b":19.666,"r":2.5,"l":1.5,"h":3.5},
{"c":"r","e":20.088,"a":19.665,"b":20.520,"r":1.5,"l":0.5,"h":2.5}
]
},
"spacing":0,
"bounds":"flush",
"vconcat":[
{
"width":271,"height":152,
"data":{"name":"spec"},
"layer":[
{"transform":[{"filter":"isValid(datum.m)"}],
 "mark":{"type":"line","interpolate":"step","clip":true,"strokeWidth":1,"opacity":0.7},
 "encoding":{
  "x":{"field":"e","type":"quantitative","scale":{"type":"log","domain":[3,30],"nice":false},"axis":{"orient":"top","labels":false,"domain":false,"title":null,"values":[4,5,6,7,8,9,10,20]}},
  "y":{"field":"m","type":"quantitative","scale":{"type":"log","domain":[0.00019,0.148],"nice":false},"axis":{"orient":"right","labels":false,"domain":false,"title":null,"values":[0.0002,0.0003,0.0004,0.0005,0.0006,0.0007,0.0008,0.0009,0.001,0.002,0.003,0.004,0.005,0.006,0.007,0.008,0.009,0.01,0.02,0.03,0.04,0.05,0.06,0.07,0.08,0.09,0.1]}},
  "color":{"field":"c","type":"nominal","scale":{"domain":["k","r"],"range":["#666666","#ff5555"]},"legend":null}}},
{"mark":{"type":"rule","clip":true,"strokeWidth":1.5,"opacity":0.85},
 "encoding":{
  "x":{"field":"e","type":"quantitative","axis":{"orient":"bottom","labels":false,"title":null,"values":[4,5,6,7,8,9,10,20]}},
  "y":{"field":"l","type":"quantitative","axis":{"orient":"left","title":"Counts/s/keV","titleY":85,"titlePadding":6,"values":[0.0002,0.0003,0.0004,0.0005,0.0006,0.0007,0.0008,0.0009,0.001,0.002,0.003,0.004,0.005,0.006,0.007,0.008,0.009,0.01,0.02,0.03,0.04,0.05,0.06,0.07,0.08,0.09,0.1],"labelExpr":"datum.value==0.1?'0.1':datum.value==0.01?'0.01':datum.value==0.001?'10⁻³':''"}},
  "y2":{"field":"h"},
  "color":{"field":"c","type":"nominal","scale":{"domain":["k","r"],"range":["#000000","#ff0000"]},"legend":null}}},
{"mark":{"type":"rule","clip":true,"strokeWidth":1.3,"opacity":0.85},
 "encoding":{
  "x":{"field":"a","type":"quantitative","axis":null},
  "x2":{"field":"b"},
  "y":{"field":"f","type":"quantitative","axis":null},
  "color":{"field":"c","type":"nominal","scale":{"domain":["k","r"],"range":["#000000","#ff0000"]},"legend":null}}}
],
"resolve":{"axis":{"x":"independent","y":"independent"},"scale":{"color":"independent"}}
},
{
"width":271,"height":80,
"view":{"stroke":"#555"},
"data":{"name":"res"},
"layer":[
{"mark":{"type":"rule","clip":true,"strokeWidth":1.2,"opacity":0.7},
 "encoding":{
  "x":{"field":"e","type":"quantitative","scale":{"type":"log","domain":[3,30],"nice":false},"axis":{"title":"Energy (keV)","titleX":142,"titlePadding":1,"values":[4,5,6,7,8,9,10,20],"labelExpr":"datum.value==5||datum.value==10||datum.value==20?''+datum.value:''"}},
  "y":{"field":"l","type":"quantitative","scale":{"domain":[-4.6,4.8],"nice":false,"zero":false},"axis":{"title":"Residuals","titleY":46,"titlePadding":6,"values":[-4,-2,0,2,4],"labelExpr":"replace(format(datum.value,'d'),'−','-')"}},
  "y2":{"field":"h"},
  "color":{"field":"c","type":"nominal","scale":{"domain":["k","r"],"range":["#111111","#ff0000"]},"legend":null}}},
{"mark":{"type":"rule","clip":true,"strokeWidth":1.2,"opacity":0.7},
 "encoding":{
  "x":{"field":"a","type":"quantitative","axis":null},
  "x2":{"field":"b"},
  "y":{"field":"r","type":"quantitative","axis":null},
  "color":{"field":"c","type":"nominal","legend":null}}},
{"mark":{"type":"rule","color":"#33cc33","strokeWidth":1.3},
 "encoding":{"y":{"datum":0.75,"axis":null}}}
],
"resolve":{"axis":{"x":"independent","y":"independent"}}
}
]
}
